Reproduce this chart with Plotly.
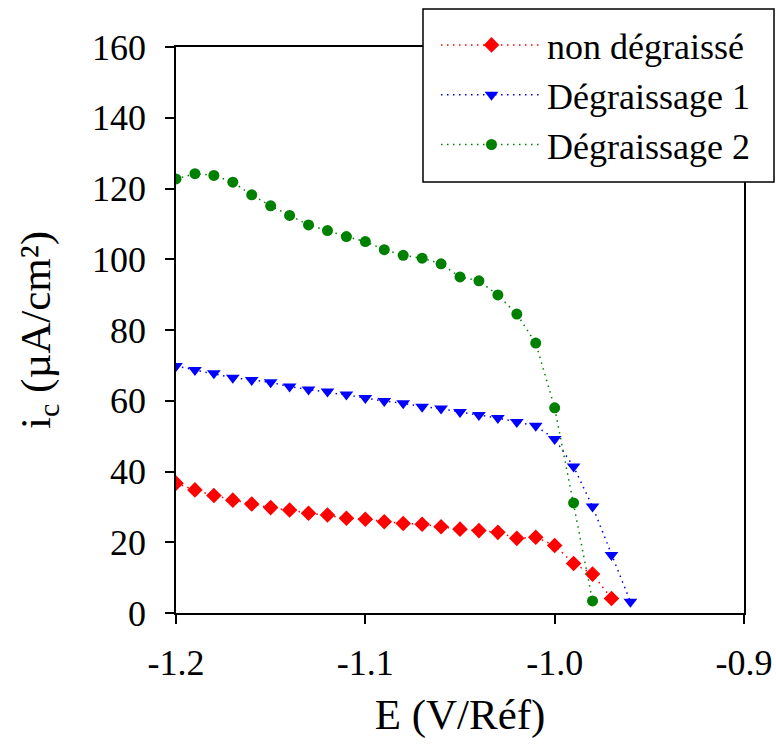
import plotly.graph_objects as go

E = [-1.20, -1.19, -1.18, -1.17, -1.16, -1.15, -1.14, -1.13, -1.12, -1.11, -1.10,
     -1.09, -1.08, -1.07, -1.06, -1.05, -1.04, -1.03, -1.02, -1.01, -1.00,
     -0.99, -0.98, -0.97, -0.96]

non_degraisse = [36.7, 34.8, 33.2, 31.9, 30.8, 29.8, 29.1, 28.2, 27.7, 26.8, 26.5,
                 25.8, 25.3, 25.1, 24.4, 23.7, 23.3, 22.8, 21.1, 21.4, 19.1,
                 14.0, 11.0, 4.1]
degraissage_1 = [69.8, 68.7, 67.8, 66.5, 65.9, 65.2, 64.0, 63.2, 62.6, 61.8, 60.8,
                 59.9, 59.3, 58.3, 57.8, 56.8, 56.0, 55.1, 54.0, 52.9, 49.2,
                 41.4, 30.1, 16.4, 3.2]
degraissage_2 = [122.7, 124.2, 123.7, 121.8, 118.2, 115.1, 112.4, 109.7, 108.1, 106.4, 105.0,
                 102.7, 101.1, 100.3, 98.7, 95.0, 93.9, 89.9, 84.5, 76.3, 58.0,
                 31.1, 3.4]

series_names = ["non dégraissé", "Dégraissage 1", "Dégraissage 2"]
x_ticks = [-1.2, -1.1, -1.0, -0.9]
x_tick_labels = ["-1.2", "-1.1", "-1.0", "-0.9"]
y_ticks = [0, 20, 40, 60, 80, 100, 120, 140, 160]

FONT = "Liberation Serif"
W, H = 776, 746
ML, MR, MT, MB = 176, 32, 47, 133
PW, PH = W - ML - MR, H - MT - MB


def px_x(p):
    return (p - ML) / PW


def px_y(p):
    return (H - MB - p) / PH


fig = go.Figure()
specs = [
    (non_degraisse, "red", "diamond", 12),
    (degraissage_1, "blue", "triangle-down", 12),
    (degraissage_2, "green", "circle", 11),
]
for name, (vals, col, sym, sz) in zip(series_names, specs):
    fig.add_trace(go.Scatter(
        x=E[:len(vals)], y=vals, name=name, mode="lines+markers",
        line=dict(color=col, width=1.5, dash="1.5px,4.5px"),
        marker=dict(color=col, symbol=sym, size=sz, line=dict(width=0)),
    ))

# legend frame
fig.add_shape(
    type="rect", xref="paper", yref="paper", layer="above",
    x0=px_x(423), x1=px_x(774), y0=px_y(182), y1=px_y(9),
    fillcolor="white", line=dict(color="black", width=1.5),
)

fig.update_layout(
    width=W, height=H,
    margin=dict(l=ML, r=MR, t=MT, b=MB),
    paper_bgcolor="white", plot_bgcolor="white",
    font=dict(family=FONT, size=36, color="black"),
    showlegend=True,
    legend=dict(
        x=px_x(436), y=px_y(15), xanchor="left", yanchor="top",
        bgcolor="rgba(0,0,0,0)", borderwidth=0,
        font=dict(family=FONT, size=36, color="black"),
        itemwidth=101, tracegroupgap=0,
    ),
    xaxis=dict(
        range=[-1.2, -0.9], tickvals=x_ticks, ticktext=x_tick_labels,
        ticks="outside", ticklen=9, tickwidth=1.5, tickcolor="black",
        ticklabelstandoff=8,
        showline=True, linecolor="black", linewidth=1.5, mirror=True,
        showgrid=False, zeroline=False, automargin=False,
        title=dict(text="E (V/Réf)", standoff=17),
    ),
    yaxis=dict(
        range=[0, 160], tickvals=y_ticks,
        ticks="outside", ticklen=9, tickwidth=1.5, tickcolor="black",
        ticklabelstandoff=12,
        showline=True, linecolor="black", linewidth=1.5, mirror=True,
        showgrid=False, zeroline=False, automargin=False,
        title=dict(text="i<sub>c</sub> (µA/cm²)", standoff=28),
    ),
)

fig.write_html(
    "out.html",
    config={"displayModeBar": False},
    post_script="document.body.style.margin='0';document.body.style.overflow='hidden';",
)
